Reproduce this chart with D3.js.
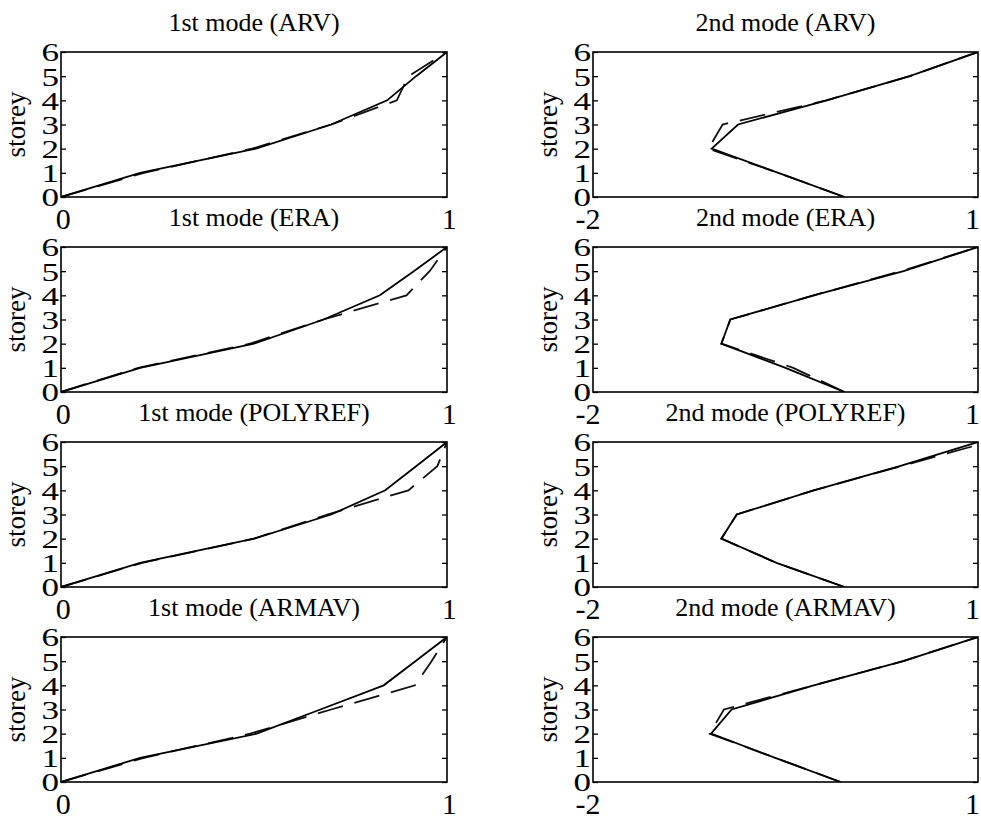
<!DOCTYPE html>
<html><head><meta charset="utf-8">
<script src="https://cdn.jsdelivr.net/npm/d3@7"></script>
<style>
body{margin:0;background:#fff;}
text{font-family:"Liberation Serif","Times New Roman",serif;fill:#000;}
</style></head><body>
<svg id="chart" width="981" height="820"></svg>
<script>
// ---- data ----
const storeys = [0,1,2,3,4,5,6];
const yTickValues = [0,1,2,3,4,5,6];
const mode1XTicks = [0,1];
const mode2XTicks = [-2,1];
const mode1Domain = [0,1];
const mode2Domain = [-2,1];
const methods = ["ARV","ERA","POLYREF","ARMAV"];
const modeNames = ["1st mode","2nd mode"];

const mode1SolidARV      = [0,0.205,0.505,0.70,0.845,0.92,1];
const mode1DashedARV     = [0,0.215,0.495,0.70,0.87,0.90,1];
const mode1SolidERA      = [0,0.205,0.50,0.68,0.826,0.914,1];
const mode1DashedERA     = [0,0.20,0.49,0.68,0.895,0.955,1];
const mode1SolidPOLYREF  = [0,0.205,0.50,0.70,0.84,0.92,1];
const mode1DashedPOLYREF = [0,0.21,0.50,0.69,0.90,0.975,1];
const mode1SolidARMAV    = [0,0.205,0.507,0.672,0.836,0.918,1];
const mode1DashedARMAV   = [0,0.215,0.49,0.70,0.917,0.96,1];

const mode2SolidARV      = [-0.04,-0.556,-1.075,-0.87,-0.18,0.468,1];
const mode2DashedARV     = [-0.04,-0.556,-1.10,-0.99,-0.18,0.468,1];
const mode2SolidERA      = [-0.04,-0.50,-1.0,-0.93,-0.28,0.42,1];
const mode2DashedERA     = [-0.04,-0.44,-1.0,-0.93,-0.28,0.40,1];
const mode2SolidPOLYREF  = [-0.04,-0.57,-1.0,-0.88,-0.28,0.39,1];
const mode2DashedPOLYREF = [-0.04,-0.57,-1.0,-0.88,-0.28,0.40,1.08];
const mode2SolidARMAV    = [-0.07,-0.58,-1.08,-0.92,-0.28,0.417,1];
const mode2DashedARMAV   = [-0.07,-0.58,-1.09,-0.98,-0.28,0.417,1];

const solids = [
  [mode1SolidARV, mode1SolidERA, mode1SolidPOLYREF, mode1SolidARMAV],
  [mode2SolidARV, mode2SolidERA, mode2SolidPOLYREF, mode2SolidARMAV]
];
const dasheds = [
  [mode1DashedARV, mode1DashedERA, mode1DashedPOLYREF, mode1DashedARMAV],
  [mode2DashedARV, mode2DashedERA, mode2DashedPOLYREF, mode2DashedARMAV]
];

// ---- layout ----
const colX = [[61,447],[593,978]];
const rowTop = [52,247,442,637];
const panelH = 145;

const svg = d3.select("#chart");
const defs = svg.append("defs");

modeNames.forEach((mode, c) => {
  methods.forEach((method, r) => {
    const [x0, x1] = colX[c];
    const top = rowTop[r], bottom = top + panelH;
    const domain = c === 0 ? mode1Domain : mode2Domain;
    const x = d3.scaleLinear().domain(domain).range([x0, x1]);
    const y = d3.scaleLinear().domain([0,6]).range([bottom, top]);
    const id = `clip-${c}-${r}`;
    defs.append("clipPath").attr("id", id).append("rect")
      .attr("x", x0).attr("y", top).attr("width", x1 - x0).attr("height", panelH);

    const g = svg.append("g");

    // frame
    g.append("rect").attr("x", x0).attr("y", top).attr("width", x1 - x0).attr("height", panelH)
      .attr("fill", "none").attr("stroke", "#000").attr("stroke-width", 1.6);

    // y axis left (ticks inside, labels outside)
    const yl = g.append("g").attr("transform", `translate(${x0},0)`)
      .call(d3.axisLeft(y).tickValues(yTickValues).tickSize(-5).tickPadding(2).tickFormat(d => String(d)));
    yl.select(".domain").remove();
    yl.selectAll("line").attr("stroke", "#000").attr("stroke-width", 1.3);
    yl.selectAll("text").attr("font-size", 26)
      .attr("x", -1.5).attr("transform", "scale(1.35,1)").attr("dy", "0.34em");

    // y axis right ticks
    const yr = g.append("g").attr("transform", `translate(${x1},0)`)
      .call(d3.axisRight(y).tickValues(yTickValues).tickSize(-5).tickFormat(""));
    yr.select(".domain").remove();
    yr.selectAll("line").attr("stroke", "#000").attr("stroke-width", 1.3);

    // x axis labels
    const xa = g.append("g").attr("transform", `translate(0,${bottom})`)
      .call(d3.axisBottom(x).tickValues(c === 0 ? mode1XTicks : mode2XTicks).tickSize(0).tickPadding(11)
        .tickFormat(d => String(d)));
    xa.select(".domain").remove();
    xa.selectAll("text").attr("font-size", 30)
      .attr("dx", d => d < 0 ? "-0.18em" : (c === 1 && d === domain[1] ? "-0.2em" : "0.06em"));

    // title
    g.append("text").attr("x", (x0 + x1) / 2).attr("y", top - 21)
      .attr("text-anchor", "middle").attr("font-size", 26).text(`${mode} (${method})`);

    // y label
    g.append("text").attr("transform", `translate(${x0 - 36},${(top + bottom) / 2}) rotate(-90)`)
      .attr("text-anchor", "middle").attr("font-size", 27).text("storey");

    const line = d3.line().x(d => x(d[0])).y(d => y(d[1]));
    const plot = g.append("g").attr("clip-path", `url(#${id})`);
    plot.append("path").datum(dasheds[c][r].map((v, i) => [v, storeys[i]]))
      .attr("d", line).attr("fill", "none").attr("stroke", "#111").attr("stroke-width", 1.8)
      .attr("stroke-dasharray", "26,12");
    plot.append("path").datum(solids[c][r].map((v, i) => [v, storeys[i]]))
      .attr("d", line).attr("fill", "none").attr("stroke", "#000").attr("stroke-width", 1.8);
  });
});
</script>
</body></html>
